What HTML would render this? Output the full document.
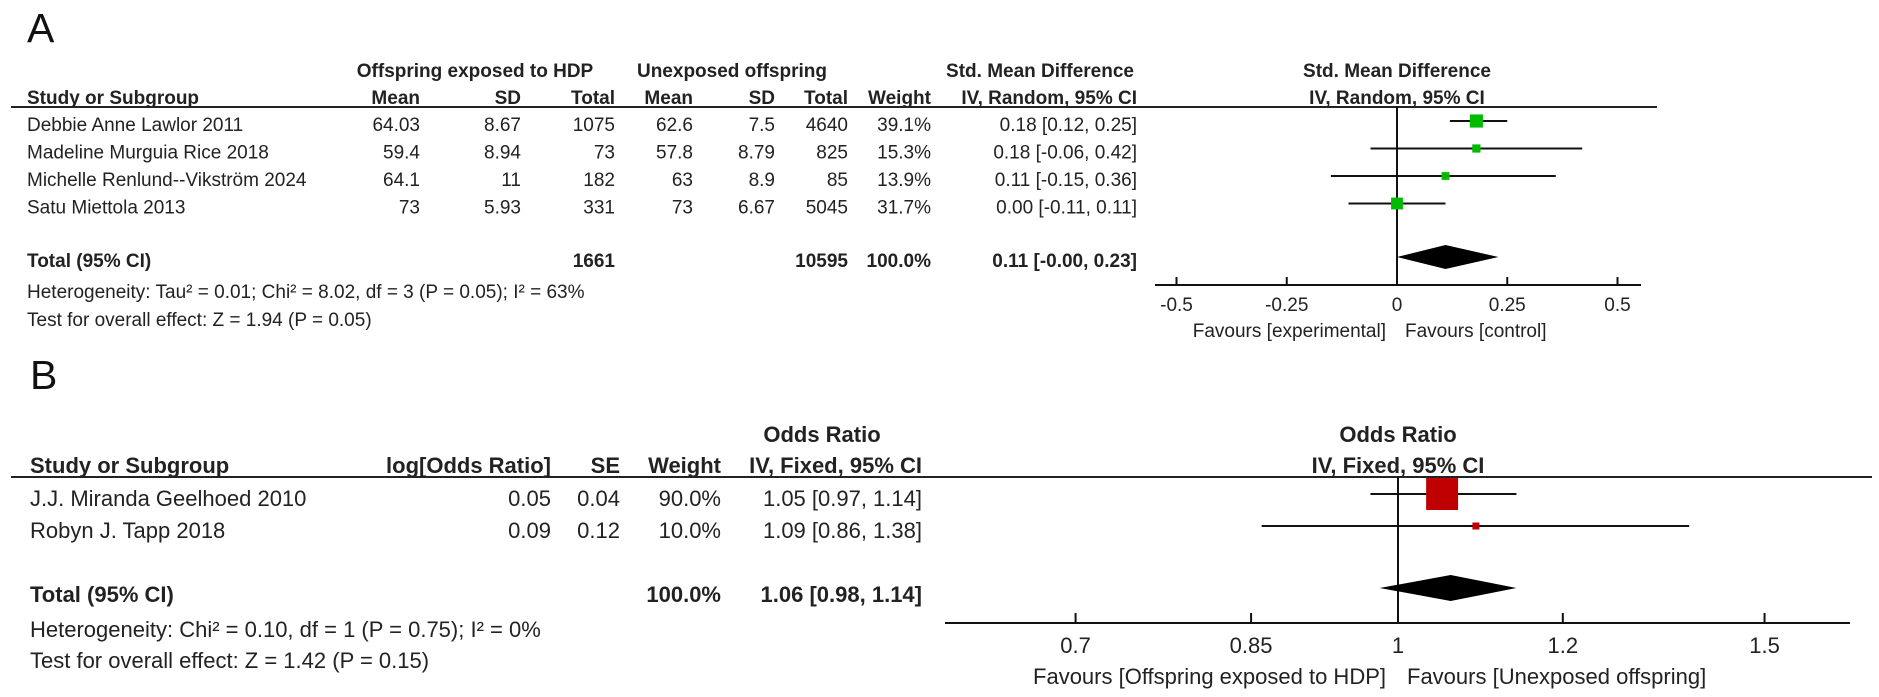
<!DOCTYPE html>
<html><head><meta charset="utf-8"><style>
html,body{margin:0;padding:0;background:#fff;}
svg{display:block;font-family:"Liberation Sans",Arial,sans-serif;}
</style></head><body>
<svg id="chart" width="1879" height="697" viewBox="0 0 1879 697" xmlns="http://www.w3.org/2000/svg">
<g id="pa" font-size="19" fill="#222">
<text x="27" y="42" font-size="41" fill="#111">A</text>
<g font-weight="bold">
<text x="475" y="77" text-anchor="middle">Offspring exposed to HDP</text>
<text x="732" y="77" text-anchor="middle">Unexposed offspring</text>
<text x="1040" y="77" text-anchor="middle">Std. Mean Difference</text>
<text x="27" y="104">Study or Subgroup</text>
<text x="420" y="104" text-anchor="end">Mean</text>
<text x="521" y="104" text-anchor="end">SD</text>
<text x="615" y="104" text-anchor="end">Total</text>
<text x="693" y="104" text-anchor="end">Mean</text>
<text x="775" y="104" text-anchor="end">SD</text>
<text x="848" y="104" text-anchor="end">Total</text>
<text x="931" y="104" text-anchor="end">Weight</text>
<text x="1137" y="104" text-anchor="end">IV, Random, 95% CI</text>
<text x="1397" y="77" text-anchor="middle">Std. Mean Difference</text>
<text x="1397" y="104" text-anchor="middle">IV, Random, 95% CI</text>
</g>
<line x1="11" y1="107" x2="1657" y2="107" stroke="#222" stroke-width="2"/>
<g id="pa-rows"></g>
<g font-weight="bold">
<text x="27" y="267">Total (95% CI)</text>
<text x="615" y="267" text-anchor="end">1661</text>
<text x="848" y="267" text-anchor="end">10595</text>
<text x="931" y="267" text-anchor="end">100.0%</text>
<text x="1137" y="267" text-anchor="end">0.11 [-0.00, 0.23]</text>
</g>
<text x="27" y="298">Heterogeneity: Tau² = 0.01; Chi² = 8.02, df = 3 (P = 0.05); I² = 63%</text>
<text x="27" y="326">Test for overall effect: Z = 1.94 (P = 0.05)</text>
<g id="pa-plot"></g>
</g>
<g id="pb" font-size="22" fill="#222">
<text x="30" y="389" font-size="41" fill="#111">B</text>
<g font-weight="bold">
<text x="822" y="442" text-anchor="middle">Odds Ratio</text>
<text x="30" y="473">Study or Subgroup</text>
<text x="551" y="473" text-anchor="end">log[Odds Ratio]</text>
<text x="620" y="473" text-anchor="end">SE</text>
<text x="721" y="473" text-anchor="end">Weight</text>
<text x="922" y="473" text-anchor="end">IV, Fixed, 95% CI</text>
<text x="1398" y="442" text-anchor="middle">Odds Ratio</text>
<text x="1398" y="473" text-anchor="middle">IV, Fixed, 95% CI</text>
</g>
<line x1="11" y1="477" x2="1872" y2="477" stroke="#222" stroke-width="2"/>
<g id="pb-rows"></g>
<g font-weight="bold">
<text x="30" y="602">Total (95% CI)</text>
<text x="721" y="602" text-anchor="end">100.0%</text>
<text x="922" y="602" text-anchor="end">1.06 [0.98, 1.14]</text>
</g>
<text x="30" y="637">Heterogeneity: Chi² = 0.10, df = 1 (P = 0.75); I² = 0%</text>
<text x="30" y="668">Test for overall effect: Z = 1.42 (P = 0.15)</text>
<g id="pb-plot"></g>
</g>
</svg>
<script>
// Panel A data
const aStudies = ["Debbie Anne Lawlor 2011","Madeline Murguia Rice 2018","Michelle Renlund--Vikström 2024","Satu Miettola 2013"];
const aMean1 = ["64.03","59.4","64.1","73"];
const aSD1 = ["8.67","8.94","11","5.93"];
const aN1 = ["1075","73","182","331"];
const aMean2 = ["62.6","57.8","63","73"];
const aSD2 = ["7.5","8.79","8.9","6.67"];
const aN2 = ["4640","825","85","5045"];
const aWeight = [39.1,15.3,13.9,31.7];
const aEst = [0.18,0.18,0.11,0.00];
const aLo = [0.12,-0.06,-0.15,-0.11];
const aHi = [0.25,0.42,0.36,0.11];
const aTotal = [0.11,-0.00,0.23];
const aTicks = [-0.5,-0.25,0,0.25,0.5];
const aTickLabels = ["-0.5","-0.25","0","0.25","0.5"];
// Panel B data
const bStudies = ["J.J. Miranda Geelhoed 2010","Robyn J. Tapp 2018"];
const bLogOR = ["0.05","0.09"];
const bSE = ["0.04","0.12"];
const bWeight = [90.0,10.0];
const bEst = [1.05,1.09];
const bLo = [0.97,0.86];
const bHi = [1.14,1.38];
const bTotal = [1.06,0.98,1.14];
const bTicks = [0.7,0.85,1,1.2,1.5];
const bTickLabels = ["0.7","0.85","1","1.2","1.5"];

const NS="http://www.w3.org/2000/svg";
function mk(parent,tag,attrs,txt){const e=document.createElementNS(NS,tag);for(const k in attrs)e.setAttribute(k,attrs[k]);if(txt!==undefined)e.textContent=txt;parent.appendChild(e);return e;}
const fmt=v=>v.toFixed(2);
const fmtCI=(e,l,h)=>fmt(e)+" ["+fmt(l)+", "+fmt(h)+"]";

// Panel A
const xA=v=>1397+v*441;
const aRowY=i=>121+i*27.5;
const paRows=document.getElementById('pa-rows');
const paPlot=document.getElementById('pa-plot');
aStudies.forEach((s,i)=>{
  const y=aRowY(i)+10;
  const g=mk(paRows,'g',{});
  
  
  mk(g,'text',{x:27,y:y},s);
  mk(g,'text',{x:420,y:y,'text-anchor':'end'},aMean1[i]);
  mk(g,'text',{x:521,y:y,'text-anchor':'end'},aSD1[i]);
  mk(g,'text',{x:615,y:y,'text-anchor':'end'},aN1[i]);
  mk(g,'text',{x:693,y:y,'text-anchor':'end'},aMean2[i]);
  mk(g,'text',{x:775,y:y,'text-anchor':'end'},aSD2[i]);
  mk(g,'text',{x:848,y:y,'text-anchor':'end'},aN2[i]);
  mk(g,'text',{x:931,y:y,'text-anchor':'end'},aWeight[i].toFixed(1)+"%");
  mk(g,'text',{x:1137,y:y,'text-anchor':'end'},fmtCI(aEst[i],aLo[i],aHi[i]));
});
let zl=mk(paPlot,'line',{x1:xA(0),y1:107,x2:xA(0),y2:285,stroke:'#111','stroke-width':2});


aStudies.forEach((s,i)=>{
  const y=aRowY(i);
  const l=mk(paPlot,'line',{x1:xA(aLo[i]),y1:y,x2:xA(aHi[i]),y2:y,stroke:'#111','stroke-width':2});
  
  
  const sz=2.1*Math.sqrt(aWeight[i]);
  const r=mk(paPlot,'rect',{x:xA(aEst[i])-sz/2,y:y-sz/2,width:sz,height:sz,fill:'#00bb00'});
  
  
});
{
  const y=257,h=12;
  const d=mk(paPlot,'polygon',{points:`${xA(aTotal[1])},${y} ${xA(aTotal[0])},${y-h} ${xA(aTotal[2])},${y} ${xA(aTotal[0])},${y+h}`,fill:'#000'});
  
  
  const ax=mk(paPlot,'line',{x1:1155,y1:285,x2:1641,y2:285,stroke:'#111','stroke-width':2});
  
  
  aTicks.forEach((t,i)=>{
    const tk=mk(paPlot,'line',{x1:xA(t),y1:277,x2:xA(t),y2:285,stroke:'#111','stroke-width':2});
    
    
    const tl=mk(paPlot,'text',{x:xA(t),y:311,'text-anchor':'middle'},aTickLabels[i]);
    
    
  });
  const f1=mk(paPlot,'text',{x:1386,y:337,'text-anchor':'end'},'Favours [experimental]');
  
  
  const f2=mk(paPlot,'text',{x:1405,y:337},'Favours [control]');
  
  
}

// Panel B
const xB=v=>1398+Math.log(v)*904;
const bRowY=i=>494+i*32;
const pbRows=document.getElementById('pb-rows');
const pbPlot=document.getElementById('pb-plot');
bStudies.forEach((s,i)=>{
  const y=bRowY(i)+12;
  const g=mk(pbRows,'g',{});
  
  
  mk(g,'text',{x:30,y:y},s);
  mk(g,'text',{x:551,y:y,'text-anchor':'end'},bLogOR[i]);
  mk(g,'text',{x:620,y:y,'text-anchor':'end'},bSE[i]);
  mk(g,'text',{x:721,y:y,'text-anchor':'end'},bWeight[i].toFixed(1)+"%");
  mk(g,'text',{x:922,y:y,'text-anchor':'end'},fmtCI(bEst[i],bLo[i],bHi[i]));
});
zl=mk(pbPlot,'line',{x1:xB(1),y1:477,x2:xB(1),y2:623,stroke:'#111','stroke-width':2});


bStudies.forEach((s,i)=>{
  const y=bRowY(i);
  const l=mk(pbPlot,'line',{x1:xB(bLo[i]),y1:y,x2:xB(bHi[i]),y2:y,stroke:'#111','stroke-width':2});
  
  
  const sz=Math.max(7,0.355*bWeight[i]);
  const r=mk(pbPlot,'rect',{x:xB(bEst[i])-sz/2,y:y-sz/2,width:sz,height:sz,fill:'#c00000'});
  
  
});
{
  const y=588,h=13;
  const d=mk(pbPlot,'polygon',{points:`${xB(bTotal[1])},${y} ${xB(bTotal[0])},${y-h} ${xB(bTotal[2])},${y} ${xB(bTotal[0])},${y+h}`,fill:'#000'});
  
  
  const ax=mk(pbPlot,'line',{x1:945,y1:623,x2:1850,y2:623,stroke:'#111','stroke-width':2});
  
  
  bTicks.forEach((t,i)=>{
    const tk=mk(pbPlot,'line',{x1:xB(t),y1:613,x2:xB(t),y2:623,stroke:'#111','stroke-width':2});
    
    
    const tl=mk(pbPlot,'text',{x:xB(t),y:653,'text-anchor':'middle'},bTickLabels[i]);
    
    
  });
  const f1=mk(pbPlot,'text',{x:1386,y:684,'text-anchor':'end'},'Favours [Offspring exposed to HDP]');
  
  
  const f2=mk(pbPlot,'text',{x:1407,y:684},'Favours [Unexposed offspring]');
  
  
}
</script>
</body></html>
